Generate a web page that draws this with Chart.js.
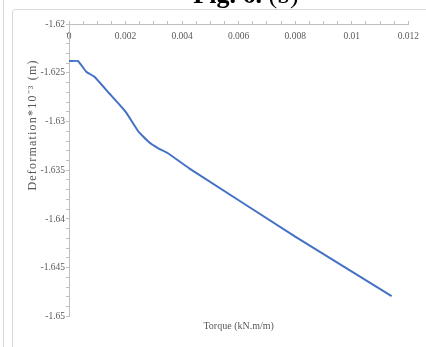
<!DOCTYPE html>
<html>
<head>
<meta charset="utf-8">
<script src="https://cdn.jsdelivr.net/npm/chart.js@4.4.1/dist/chart.umd.min.js"></script>
<style>
  html, body { margin: 0; padding: 0; background: #fff; }
  #wrap { width: 426px; height: 347px; position: relative; }
</style>
</head>
<body>
<div id="wrap"><canvas id="chart" width="426" height="347"></canvas></div>
<script>
// Data
const torque = [0, 0.00032, 0.00061, 0.0009, 0.00142, 0.002, 0.00246, 0.00281, 0.00316, 0.0035, 0.00425, 0.008, 0.01141];
const deformation = [-1.6238, -1.6238, -1.62489, -1.62541, -1.6271, -1.62899, -1.63105, -1.63207, -1.63275, -1.63326, -1.6348, -1.6418, -1.6479];

const xTicks = [0, 0.002, 0.004, 0.006, 0.008, 0.01, 0.012];
const yTicks = [-1.62, -1.625, -1.63, -1.635, -1.64, -1.645, -1.65];

const titleMain = 'Fig. 6.';
const titleSub = ' (b)';
const xTitle = 'Torque (kN.m/m)';
const yTitle = 'Deformation*10\u207B\u00B3 (m)';

const serif = '"Liberation Serif", "Times New Roman", serif';
const labelColor = '#595959';
const axisColor = '#bfbfbf';

function isMajor(v, list) {
    return list.some(t => Math.abs(t - v) < 1e-9);
}

// Cadre, titre et titres d'axes
const decorPlugin = {
    id: 'decor',
    beforeDraw(chart) {
        const ctx = chart.ctx;
        ctx.save();
        ctx.strokeStyle = '#d9d9d9';
        ctx.lineWidth = 1;
        ctx.beginPath();
        ctx.moveTo(3.5, 0);
        ctx.lineTo(3.5, 347);
        ctx.moveTo(12.5, 347);
        ctx.lineTo(12.5, 12);
        ctx.quadraticCurveTo(12.5, 9.5, 15, 9.5);
        ctx.lineTo(426, 9.5);
        ctx.stroke();
        ctx.restore();
    },
    afterDraw(chart) {
        const ctx = chart.ctx;
        const area = chart.chartArea;
        ctx.save();
        // titre coupé en haut
        ctx.fillStyle = '#000';
        ctx.textBaseline = 'alphabetic';
        ctx.font = 'bold 26px ' + serif;
        const w1 = ctx.measureText(titleMain).width;
        ctx.font = '26px ' + serif;
        const w2 = ctx.measureText(titleSub).width;
        const startX = 246 - (w1 + w2) / 2;
        ctx.font = 'bold 26px ' + serif;
        ctx.fillText(titleMain, startX, 3);
        ctx.font = '26px ' + serif;
        ctx.fillText(titleSub, startX + w1, 3);

        ctx.fillStyle = labelColor;
        ctx.font = '10px ' + serif;
        ctx.textAlign = 'center';
        ctx.textBaseline = 'middle';
        ctx.fillText(xTitle, (area.left + area.right) / 2, area.bottom + 10);

        ctx.translate(33, area.top + (area.bottom - area.top) * 0.345);
        ctx.rotate(-Math.PI / 2);
        ctx.font = '12px ' + serif;
        ctx.letterSpacing = '1.2px';
        ctx.fillText(yTitle, 0, 0);
        ctx.restore();
    }
};

const ctx = document.getElementById('chart').getContext('2d');
new Chart(ctx, {
    type: 'line',
    data: {
        datasets: [{
            data: torque.map((t, i) => ({ x: t, y: deformation[i] })),
            borderColor: '#4472C4',
            borderWidth: 2,
            pointRadius: 0,
            fill: false,
            tension: 0.1
        }]
    },
    options: {
        responsive: false,
        animation: false,
        layout: { padding: { top: 24, right: 11, bottom: 30.5, left: 0 } },
        plugins: {
            legend: { display: false },
            tooltip: { enabled: false }
        },
        scales: {
            x: {
                type: 'linear',
                position: 'top',
                min: 0,
                max: 0.012,
                afterFit: scale => { scale.height = 0; },
                border: { display: true, color: axisColor, width: 1 },
                grid: { display: true, drawOnChartArea: false, tickLength: 3, color: axisColor },
                ticks: {
                    stepSize: 0.0005,
                    mirror: true,
                    padding: 7,
                    color: labelColor,
                    font: { family: serif, size: 9.5 },
                    autoSkip: false,
                    maxRotation: 0,
                    callback: v => isMajor(v, xTicks) ? String(Number(v.toFixed(4))) : ''
                }
            },
            y: {
                type: 'linear',
                min: -1.65,
                max: -1.62,
                afterFit: scale => { scale.width = 69; },
                border: { display: true, color: axisColor, width: 1 },
                grid: { display: true, drawOnChartArea: false, tickLength: 3, color: axisColor },
                ticks: {
                    stepSize: 0.001,
                    padding: 1,
                    color: labelColor,
                    font: { family: serif, size: 9.5 },
                    autoSkip: false,
                    callback: v => isMajor(v, yTicks) ? String(Number(v.toFixed(3))) : ''
                }
            }
        }
    },
    plugins: [decorPlugin]
});
</script>
</body>
</html>
